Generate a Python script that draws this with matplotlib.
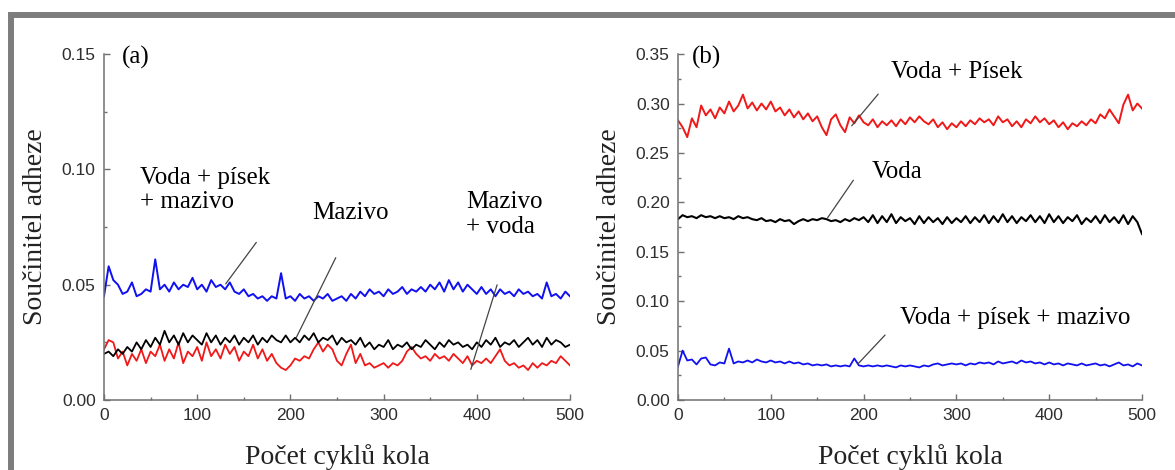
import matplotlib
matplotlib.use("Agg")
import matplotlib.pyplot as plt
from matplotlib.patches import Rectangle
from matplotlib.ticker import MultipleLocator, FormatStrFormatter

# počet cyklů (krok 5)
cycles = list(range(0, 501, 5))

# (a) součinitel adheze
a_voda_pisek_mazivo = [
    0.045, 0.058, 0.052, 0.050, 0.046, 0.047, 0.051, 0.045, 0.046, 0.048,
    0.047, 0.061, 0.048, 0.050, 0.047, 0.051, 0.048, 0.050, 0.049, 0.053,
    0.048, 0.050, 0.047, 0.052, 0.049, 0.050, 0.048, 0.051, 0.047, 0.046,
    0.048, 0.045, 0.046, 0.044, 0.045, 0.043, 0.045, 0.044, 0.055, 0.044,
    0.045, 0.043, 0.046, 0.044, 0.045, 0.043, 0.045, 0.044, 0.046, 0.043,
    0.044, 0.045, 0.043, 0.046, 0.044, 0.047, 0.045, 0.048, 0.046, 0.047,
    0.045, 0.048, 0.046, 0.047, 0.049, 0.046, 0.048, 0.047, 0.049, 0.047,
    0.050, 0.048, 0.051, 0.047, 0.052, 0.048, 0.051, 0.047, 0.050, 0.048,
    0.046, 0.049, 0.046, 0.048, 0.045, 0.048, 0.046, 0.047, 0.045, 0.048,
    0.046, 0.047, 0.045, 0.046, 0.044, 0.051, 0.045, 0.046, 0.044, 0.047,
    0.045,
]
a_mazivo = [
    0.020, 0.021, 0.019, 0.022, 0.020, 0.023, 0.021, 0.025, 0.022, 0.026,
    0.023, 0.027, 0.024, 0.030, 0.025, 0.028, 0.024, 0.029, 0.025, 0.028,
    0.026, 0.024, 0.029, 0.025, 0.028, 0.024, 0.027, 0.025, 0.028, 0.024,
    0.027, 0.025, 0.028, 0.024, 0.027, 0.025, 0.028, 0.026, 0.025, 0.028,
    0.025, 0.027, 0.025, 0.028, 0.026, 0.029, 0.025, 0.027, 0.026, 0.028,
    0.024, 0.027, 0.025, 0.026, 0.024, 0.027, 0.023, 0.025, 0.022, 0.024,
    0.023, 0.026, 0.022, 0.024, 0.023, 0.025, 0.022, 0.024, 0.023, 0.026,
    0.024, 0.022, 0.025, 0.023, 0.026, 0.024, 0.025, 0.023, 0.024, 0.022,
    0.025, 0.023, 0.026, 0.024, 0.027, 0.023, 0.025, 0.024, 0.026, 0.023,
    0.025, 0.027, 0.024, 0.026, 0.023, 0.027, 0.024, 0.026, 0.025, 0.023,
    0.024,
]
a_mazivo_voda = [
    0.022, 0.026, 0.025, 0.018, 0.021, 0.015, 0.020, 0.017, 0.022, 0.016,
    0.021, 0.019, 0.024, 0.017, 0.022, 0.018, 0.025, 0.016, 0.021, 0.019,
    0.023, 0.017, 0.025, 0.019, 0.022, 0.018, 0.024, 0.020, 0.023, 0.017,
    0.021, 0.019, 0.024, 0.018, 0.022, 0.017, 0.020, 0.016, 0.014, 0.013,
    0.015, 0.018, 0.017, 0.019, 0.018, 0.022, 0.025, 0.021, 0.024, 0.022,
    0.017, 0.015, 0.020, 0.024, 0.016, 0.020, 0.015, 0.016, 0.014, 0.015,
    0.016, 0.014, 0.016, 0.015, 0.017, 0.021, 0.023, 0.020, 0.018, 0.019,
    0.017, 0.020, 0.018, 0.019, 0.017, 0.020, 0.018, 0.016, 0.019, 0.015,
    0.017, 0.016, 0.018, 0.016, 0.019, 0.022, 0.017, 0.015, 0.016, 0.014,
    0.015, 0.013, 0.016, 0.014, 0.016, 0.015, 0.017, 0.016, 0.019, 0.017,
    0.015,
]

# (b) součinitel adheze
b_voda_pisek = [
    0.283, 0.276, 0.266, 0.285, 0.276, 0.298, 0.288, 0.294, 0.285, 0.296,
    0.290, 0.302, 0.292, 0.298, 0.309, 0.295, 0.301, 0.293, 0.300, 0.294,
    0.302, 0.292, 0.296, 0.288, 0.294, 0.286, 0.292, 0.284, 0.290, 0.282,
    0.287, 0.276, 0.268, 0.284, 0.289, 0.278, 0.271, 0.286, 0.280, 0.288,
    0.281, 0.278, 0.284, 0.276, 0.282, 0.278, 0.283, 0.277, 0.284, 0.279,
    0.286, 0.281, 0.287, 0.282, 0.279, 0.284, 0.276, 0.281, 0.274, 0.280,
    0.276, 0.282, 0.277, 0.283, 0.279, 0.285, 0.281, 0.284, 0.278, 0.287,
    0.281, 0.284, 0.277, 0.282, 0.276, 0.284, 0.280, 0.287, 0.281, 0.285,
    0.279, 0.283, 0.276, 0.281, 0.274, 0.280, 0.277, 0.282, 0.278, 0.284,
    0.280, 0.289, 0.285, 0.294, 0.287, 0.280, 0.299, 0.309, 0.293, 0.300,
    0.295,
]
b_voda = [
    0.183, 0.187, 0.185, 0.186, 0.184, 0.187, 0.185, 0.186, 0.184, 0.186,
    0.184, 0.185, 0.183, 0.186, 0.184, 0.185, 0.183, 0.182, 0.184, 0.181,
    0.182, 0.180, 0.183, 0.181, 0.182, 0.178, 0.181, 0.183, 0.181, 0.183,
    0.182, 0.184, 0.183, 0.181, 0.182, 0.180, 0.183, 0.181, 0.184, 0.182,
    0.185, 0.180, 0.187, 0.179, 0.186, 0.180, 0.188, 0.179, 0.185, 0.181,
    0.184, 0.178, 0.186, 0.179, 0.185, 0.180, 0.184, 0.178, 0.185, 0.179,
    0.184, 0.180, 0.186, 0.179, 0.185, 0.180, 0.187, 0.179, 0.186, 0.180,
    0.188, 0.180, 0.186, 0.179, 0.185, 0.181, 0.187, 0.180, 0.186, 0.179,
    0.188, 0.180, 0.186, 0.179, 0.185, 0.181, 0.187, 0.178, 0.184, 0.180,
    0.186, 0.179, 0.187, 0.180, 0.185, 0.179, 0.187, 0.178, 0.186, 0.180,
    0.168,
]
b_voda_pisek_mazivo = [
    0.034, 0.050, 0.040, 0.041, 0.036, 0.042, 0.043, 0.036, 0.035, 0.038,
    0.037, 0.052, 0.037, 0.039, 0.038, 0.040, 0.038, 0.041, 0.039, 0.038,
    0.040, 0.038, 0.039, 0.037, 0.039, 0.037, 0.038, 0.036, 0.037, 0.035,
    0.036, 0.035, 0.036, 0.034, 0.035, 0.034, 0.035, 0.034, 0.042, 0.035,
    0.034, 0.035, 0.034, 0.035, 0.034, 0.035, 0.034, 0.033, 0.035, 0.034,
    0.035, 0.034, 0.033, 0.035, 0.034, 0.036, 0.037, 0.035, 0.036, 0.037,
    0.036, 0.037, 0.035, 0.037, 0.036, 0.038, 0.037, 0.038, 0.036, 0.039,
    0.037, 0.038, 0.039, 0.037, 0.040, 0.038, 0.039, 0.037, 0.038, 0.036,
    0.038, 0.036, 0.037, 0.035, 0.037, 0.036, 0.035, 0.037, 0.035, 0.036,
    0.037, 0.035, 0.036, 0.034, 0.036, 0.038, 0.035, 0.036, 0.034, 0.037,
    0.035,
]

serif = "Liberation Serif"
sans = "Liberation Sans"
blue = "#1010f0"
red = "#f01818"
axis_gray = "#707070"

fig = plt.figure(figsize=(11.75, 4.7), dpi=100)

# šedý rámeček kolem obrázku
fig.patches.append(Rectangle((0.0094, -0.1), 1.1, 1.068, transform=fig.transFigure,
                             fill=False, edgecolor="#7d7d7d", linewidth=4.3))

ax_a = fig.add_axes([0.0885, 0.1489, 0.3966, 0.736])
ax_b = fig.add_axes([0.5770, 0.1489, 0.3949, 0.736])

ax_a.plot(cycles, a_voda_pisek_mazivo, color=blue, lw=1.4)
ax_a.plot(cycles, a_mazivo_voda, color=red, lw=1.3)
ax_a.plot(cycles, a_mazivo, color="black", lw=1.3)

ax_b.plot(cycles, b_voda_pisek, color=red, lw=1.4)
ax_b.plot(cycles, b_voda, color="black", lw=1.5)
ax_b.plot(cycles, b_voda_pisek_mazivo, color=blue, lw=1.3)

for ax, ymax in [(ax_a, 0.15), (ax_b, 0.35)]:
    ax.set_xlim(0, 500)
    ax.set_ylim(0, ymax)
    ax.xaxis.set_major_locator(MultipleLocator(100))
    ax.xaxis.set_minor_locator(MultipleLocator(50))
    ax.yaxis.set_major_locator(MultipleLocator(0.05))
    ax.yaxis.set_minor_locator(MultipleLocator(0.025))
    ax.yaxis.set_major_formatter(FormatStrFormatter("%.2f"))
    for spine in ["top", "right"]:
        ax.spines[spine].set_visible(False)
    for spine in ["left", "bottom"]:
        ax.spines[spine].set_color(axis_gray)
        ax.spines[spine].set_linewidth(1.1)
    ax.tick_params(which="both", direction="in", color=axis_gray, width=1.0)
    ax.tick_params(which="major", length=4.5, pad=6, labelsize=12.5, labelcolor="#2e2e2e")
    ax.tick_params(which="minor", length=2.5)
    for lbl in ax.get_xticklabels() + ax.get_yticklabels():
        lbl.set_fontfamily(sans)
    ax.set_xlabel("Počet cyklů kola", family=serif, fontsize=20, color="#222222", labelpad=15)
    ax.set_ylabel("Součinitel adheze", family=serif, fontsize=20, color="#222222", labelpad=10)

ax_a.text(0.039, 0.99, "(a)", transform=ax_a.transAxes, family=serif, fontsize=18, va="center")
ax_b.text(0.030, 0.99, "(b)", transform=ax_b.transAxes, family=serif, fontsize=18, va="center")

line_kw = dict(arrowprops=dict(arrowstyle="-", color="#444444", lw=0.9))

# popisky (a)
ax_a.text(38.6, 0.091, "Voda + písek\n+ mazivo", family=serif, fontsize=18, va="center", linespacing=1.15)
ax_a.annotate("", xy=(128.8, 0.0494), xytext=(165.2, 0.0693), **line_kw)
ax_a.text(264, 0.081, "Mazivo", family=serif, fontsize=18, ha="center", va="center")
ax_a.annotate("", xy=(205, 0.026), xytext=(250, 0.0628), **line_kw)
ax_a.text(388.4, 0.0805, "Mazivo\n+ voda", family=serif, fontsize=18, va="center", linespacing=1.15)
ax_a.annotate("", xy=(392.7, 0.0121), xytext=(422.7, 0.0511), **line_kw)

# popisky (b)
ax_b.text(229.5, 0.332, "Voda + Písek", family=serif, fontsize=18, va="center")
ax_b.annotate("", xy=(185.3, 0.2753), xytext=(217.7, 0.3117), **line_kw)
ax_b.text(209, 0.2307, "Voda", family=serif, fontsize=18, va="center")
ax_b.annotate("", xy=(159.5, 0.182), xytext=(190.7, 0.2247), **line_kw)
ax_b.text(239.2, 0.083, "Voda + písek + mazivo", family=serif, fontsize=18, va="center")
ax_b.annotate("", xy=(191.8, 0.0344), xytext=(225.2, 0.0678), **line_kw)

fig.savefig("out.png", dpi=100)
